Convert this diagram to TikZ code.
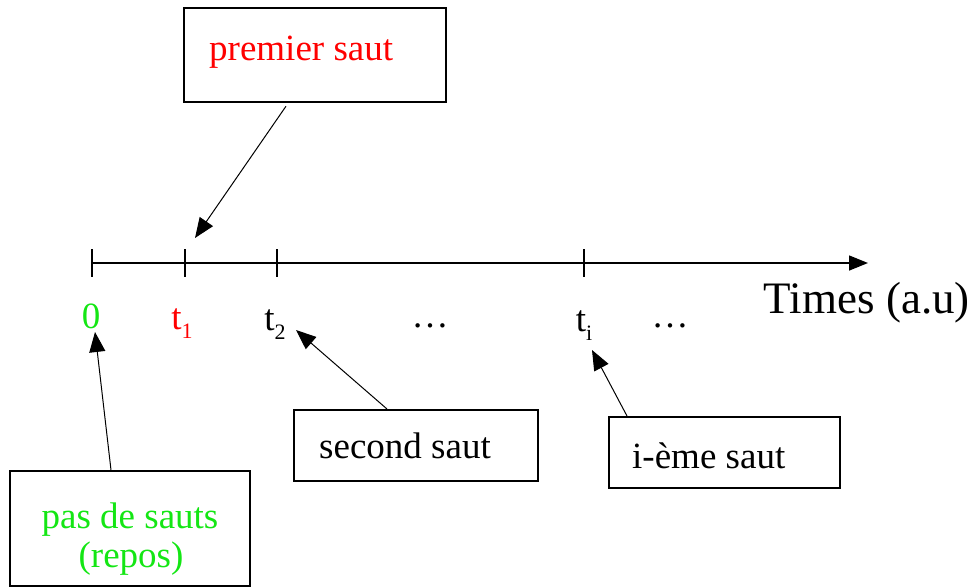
\documentclass[tikz,border=0pt]{standalone}
\usepackage{fontspec}
\setmainfont{Liberation Serif}
\usetikzlibrary{arrows.meta}
\definecolor{jumpred}{RGB}{255,0,0}
\definecolor{restgreen}{RGB}{20,230,20}
% lowered index for t_1, t_2, t_i
\newcommand\lowidx[1]{\raisebox{-9pt}{\fontsize{22}{22}\selectfont #1}}
\begin{document}
\begin{tikzpicture}[x=1pt,y=-1pt,
  callout/.style={draw, line width=2.2pt, inner sep=0pt, anchor=north west},
  boxtext/.style={anchor=base west, inner sep=0pt, font=\fontsize{37}{40}\selectfont},
  pointer/.style={line width=1pt, -{Triangle[length=20pt,width=16pt]}},
  tickmark/.style={line width=2.5pt},
  lbl/.style={anchor=base, inner sep=0pt, font=\fontsize{37}{40}\selectfont}]
\useasboundingbox (0,0) rectangle (971,587);

% time axis
\coordinate (o) at (92,263);
\coordinate (axend) at (868,263);
\draw[line width=1.5pt, -{Triangle[length=19pt,width=15pt]}] (o) -- (axend);
\foreach \x in {92,185,277,584} \draw[tickmark] (\x,249) -- (\x,277);

% instants under the axis
\node[lbl, text=restgreen] (l0) at (91,328) {0};
\node[lbl, text=jumpred] (l1) at (182,329) {t\lowidx{1}};
\node[lbl] (l2) at (275,330) {t\lowidx{2}};
\node[lbl] (d1) at (430,327) {…};
\node[lbl] (li) at (584,331) {t\lowidx{i}};
\node[lbl] (d2) at (670,327) {…};
\node[anchor=base east, inner sep=0pt, font=\fontsize{45}{50}\selectfont] (ax) at (970,313) {Times (a.u)};

% arrow targets
\coordinate (a0) at (95,332);
\coordinate (a1) at (195,238);
\coordinate (a2) at (296,330);
\coordinate (ai) at (592,350);

% first jump
\node[callout, minimum width=262pt, minimum height=94pt] (b1) at (183,7) {};
\node[boxtext, text=jumpred] at (209,60) {premier saut};
\draw[pointer] ([shift={(103,3)}]b1.south west) -- (a1);

% second jump
\node[callout, minimum width=244pt, minimum height=71pt] (b2) at (293,409) {};
\node[boxtext] at (319,458) {second saut};
\draw[pointer] ([xshift=94pt]b2.north west) -- (a2);

% i-th jump
\node[callout, minimum width=231pt, minimum height=71pt] (b3) at (608,416) {};
\node[boxtext] at (632,468) {i-ème saut};
\draw[pointer] ([xshift=19pt]b3.north west) -- (ai);

% rest
\node[callout, minimum width=240pt, minimum height=115pt] (b4) at (9,470) {};
\node[boxtext, anchor=base, text=restgreen] at (130,528) {pas de sauts};
\node[boxtext, anchor=base, text=restgreen] at (131,567) {(repos)};
\draw[pointer] ([xshift=102pt]b4.north west) -- (a0);
\end{tikzpicture}
\end{document}
